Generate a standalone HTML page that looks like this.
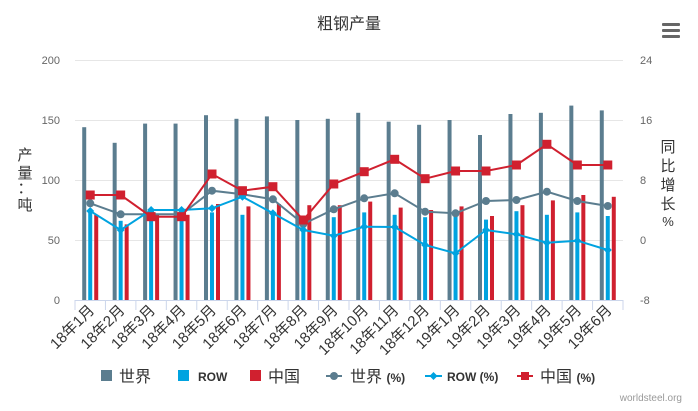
<!DOCTYPE html>
<html><head><meta charset="utf-8"><style>
html,body{margin:0;padding:0;background:#fff;}
svg{display:block;font-family:"Liberation Sans","Noto Sans CJK SC",sans-serif;}
</style></head><body>
<svg width="698" height="411" viewBox="0 0 698 411" xmlns="http://www.w3.org/2000/svg">
<rect width="698" height="411" fill="#fff"/>
<text x="349" y="29" text-anchor="middle" font-size="16" fill="#333">粗钢产量</text>
<g fill="#666"><rect x="662" y="23" width="18" height="3" rx="1"/><rect x="662" y="29" width="18" height="3" rx="1"/><rect x="662" y="35" width="18" height="3" rx="1"/></g>
<g stroke="#e6e6e6" stroke-width="1">
<line x1="75" y1="60.5" x2="623" y2="60.5"/><line x1="75" y1="120.5" x2="623" y2="120.5"/><line x1="75" y1="180.5" x2="623" y2="180.5"/><line x1="75" y1="240.5" x2="623" y2="240.5"/>
</g>
<line x1="75" y1="300.5" x2="623" y2="300.5" stroke="#ccd6eb"/>
<g font-size="11" fill="#666" text-anchor="end">
<text x="60" y="64">200</text><text x="60" y="124">150</text><text x="60" y="184">100</text><text x="60" y="244">50</text><text x="60" y="304">0</text>
</g>
<g font-size="11" fill="#666" text-anchor="start">
<text x="640" y="64">24</text><text x="640" y="124">16</text><text x="640" y="184">8</text><text x="640" y="244">0</text><text x="640" y="304">-8</text>
</g>
<g font-size="15" fill="#333" text-anchor="middle">
<text x="25" y="160">产</text><text x="25" y="178">量</text><text x="25" y="193">：</text><text x="25" y="210">吨</text>
<text x="668" y="152">同</text><text x="668" y="171">比</text><text x="668" y="190">增</text><text x="668" y="209">长</text><text x="668" y="226" font-size="13">%</text>
</g>
<g id="ticks" stroke="#ccd6eb"></g>
<g id="bars"></g>
<g id="lines"></g>
<g id="labels" font-size="15" fill="#333"></g>
<g font-size="16" fill="#333">
<rect x="101" y="370" width="11" height="11" fill="#5b7d8f"/><text x="119" y="382">世界</text>
<rect x="178" y="370" width="11" height="11" fill="#00a3e0"/><text x="198" y="381" font-size="12" font-weight="bold">ROW</text>
<rect x="250" y="370" width="11" height="11" fill="#d0202f"/><text x="268" y="382">中国</text>
<line x1="326" y1="376" x2="342" y2="376" stroke="#5b7d8f" stroke-width="2"/><circle cx="334" cy="376" r="4" fill="#5b7d8f"/><text x="350" y="382">世界 <tspan font-size="12" font-weight="bold">(%)</tspan></text>
<line x1="425" y1="376" x2="442" y2="376" stroke="#00a3e0" stroke-width="2"/><path d="M433.5 372l4 4-4 4-4-4z" fill="#00a3e0"/><text x="447" y="381" font-size="12" font-weight="bold">ROW (%)</text>
<line x1="517" y1="376" x2="533" y2="376" stroke="#d0202f" stroke-width="2"/><rect x="521" y="372" width="8" height="8" fill="#d0202f"/><text x="540" y="382">中国 <tspan font-size="12" font-weight="bold">(%)</tspan></text>
</g>
<text x="682" y="401" text-anchor="end" font-size="10" fill="#999">worldsteel.org</text>
<script>
var W=[144,131,147,147,154,151,153,150,151,156,148.6,146,150,137.5,155,156,162,158];
var R=[73.6,66,75,68,73,71,72.6,61,69,73,71,69,71,67,74,71,73,70];
var C=[71,63,71,71,80,78,80,79,79,82,77,75,78,70,79,83,87.5,86];
var CP=[195,195,216.7,216.7,174,190.7,186.7,220,184,171.7,159.3,178.7,171,171,165,144.3,165,165];
var WP=[203.3,214.3,214.3,214.3,190.7,194.3,199.3,224,209.3,198.3,193.3,211.7,213.3,201,200,191.7,201,206];
var RP=[211,230,210,210,208.3,196.7,213.3,230,235.7,226.7,227,245,253.3,230,234.3,242.7,240.7,250];
var L=["18年1月","18年2月","18年3月","18年4月","18年5月","18年6月","18年7月","18年8月","18年9月","18年10月","18年11月","18年12月","19年1月","19年2月","19年3月","19年4月","19年5月","19年6月"];
var ns="http://www.w3.org/2000/svg",step=548/18;
function el(t,a,p){var e=document.createElementNS(ns,t);for(var k in a)e.setAttribute(k,a[k]);document.getElementById(p).appendChild(e);return e;}
function y(v){return 300-v*1.2;}
for(var i=0;i<=18;i++){var x=75+step*i;el("line",{x1:x,y1:300,x2:x,y2:310},"ticks");}
var wp=[],cp=[],rp=[];
for(var i=0;i<18;i++){var c=75+step*(i+0.5);
el("rect",{x:c-8,y:y(W[i]),width:4,height:W[i]*1.2,fill:"#5b7d8f"},"bars");
el("rect",{x:c-2,y:y(R[i]),width:4,height:R[i]*1.2,fill:"#00a3e0"},"bars");
el("rect",{x:c+4,y:y(C[i]),width:4,height:C[i]*1.2,fill:"#d0202f"},"bars");
wp.push(c+","+WP[i]);cp.push(c+","+CP[i]);rp.push(c+","+RP[i]);
var t=el("text",{x:c+5,y:311,"text-anchor":"end",transform:"rotate(-45 "+(c+5)+" 311)"},"labels");t.textContent=L[i];}
el("polyline",{points:wp.join(" "),fill:"none",stroke:"#5b7d8f","stroke-width":2},"lines");
el("polyline",{points:rp.join(" "),fill:"none",stroke:"#00a3e0","stroke-width":2},"lines");
el("polyline",{points:cp.join(" "),fill:"none",stroke:"#d0202f","stroke-width":2},"lines");
for(var i=0;i<18;i++){var c=75+step*(i+0.5);
el("circle",{cx:c,cy:WP[i],r:4,fill:"#5b7d8f"},"lines");
el("path",{d:"M"+c+" "+(RP[i]-4)+"l4 4-4 4-4-4z",fill:"#00a3e0"},"lines");
el("rect",{x:c-4.5,y:CP[i]-4.5,width:9,height:9,fill:"#d0202f"},"lines");}
</script>
</svg>
</body></html>
